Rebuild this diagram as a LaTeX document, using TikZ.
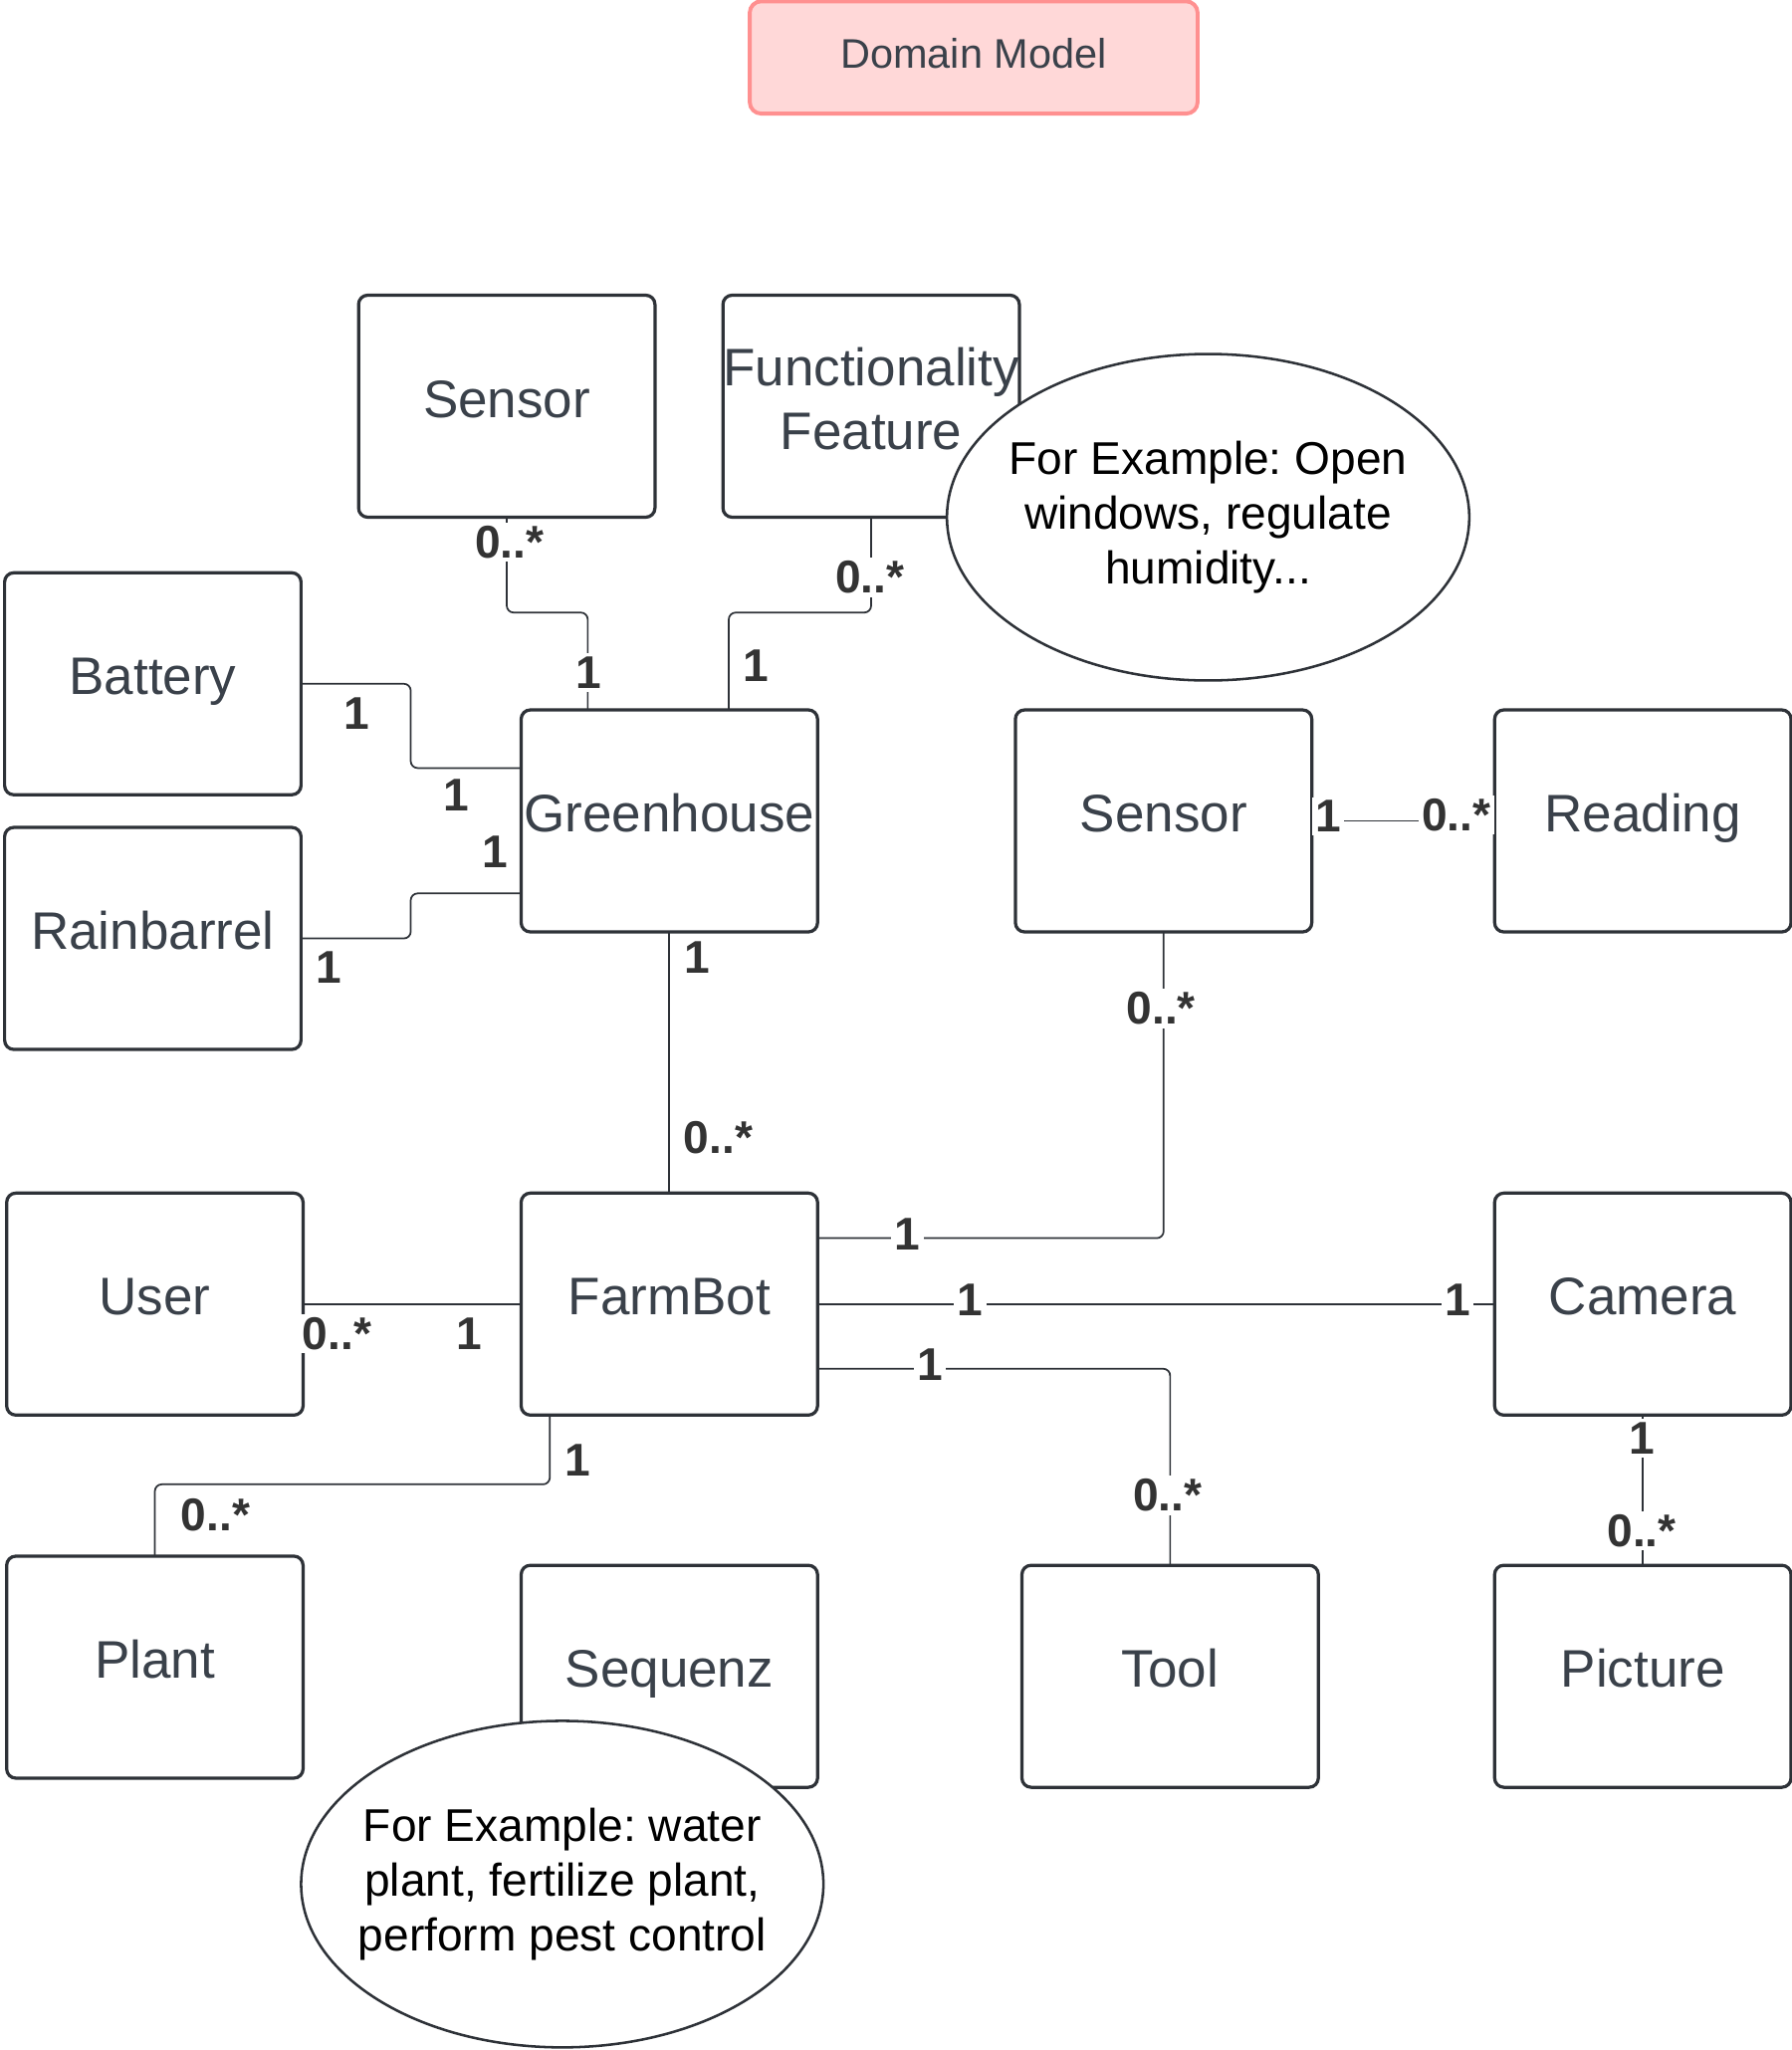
\documentclass[tikz,border=0pt]{standalone}
\usepackage{fontspec}
\setmainfont{Liberation Sans}
\usetikzlibrary{positioning, shapes.geometric}

\definecolor{boxline}{HTML}{2E3238}
\definecolor{boxtext}{HTML}{3A414A}
\definecolor{multtext}{HTML}{333333}
\definecolor{titlefill}{HTML}{FFD8D8}
\definecolor{titleline}{HTML}{FF9090}

\frenchspacing

\begin{document}
\begin{tikzpicture}[
    x=0.02cm, y=-0.02cm,
    box/.style={rectangle, draw=boxline, line width=1.4pt, rounded corners=4pt, fill=white, minimum width=4.54cm, minimum height=3.4cm, inner xsep=0pt, outer sep=0pt, text=boxtext, font=\fontsize{23pt}{27.6pt}\selectfont},
    entity/.style={box, text height=20pt, text depth=10.4pt},
    mult/.style={fill=white, inner sep=1.5pt, text=multtext, font=\fontsize{20pt}{24pt}\selectfont\bfseries},
    link/.style={draw=boxline, line width=0.75pt, rounded corners=3pt},
    note/.style={ellipse, draw=boxline, line width=1.1pt, fill=white, minimum width=8cm, minimum height=5cm},
    notetext/.style={align=center, font=\fontsize{20pt}{24pt}\selectfont},
    heading/.style={rectangle, draw=titleline, line width=1.7pt, fill=titlefill, rounded corners=5pt, minimum width=6.86cm, minimum height=1.72cm, text=boxtext, font=\fontsize{18pt}{21.6pt}\selectfont, text height=15pt, text depth=6pt}
]
\useasboundingbox (0,0) rectangle (1372,1569.5);

% Title
\node[heading] (title) at (745.5,44) {Domain Model};

% Greenhouse and its parts
\node[entity] (greenhouse) at (512.5,628.5) {Greenhouse};
\node[entity] (sensorA) at (388,311) {Sensor};
\node[box, align=center] (feature) at (667,311) {Functionality\\Feature\rule[-6.8pt]{0pt}{6.8pt}};
\node[entity] (battery) at (117,523.5) {Battery};
\node[entity, below=0.5cm of battery] (rainbarrel) {Rainbarrel};

% Sensor and readings
\node[entity, right=3.03cm of greenhouse] (sensorB) {Sensor};
\node[entity, right=2.8cm of sensorB] (reading) {Reading};

% FarmBot and its parts
\node[entity, below=4cm of greenhouse] (farmbot) {FarmBot};
\node[entity, left=3.34cm of farmbot] (user) {User};
\node[entity, below=4cm of reading] (camera) {Camera};
\node[entity, below=2.3cm of camera] (picture) {Picture};
\node[entity, left=2.7cm of picture] (tool) {Tool};
\node[entity, below=2.3cm of farmbot] (sequenz) {Sequenz};
\node[entity, below=2.16cm of user] (plant) {Plant};

% Connections
\draw[link] (sensorA.south) -- ++(0,73) -| ([xshift=-1.25cm]greenhouse.north);
\draw[link] (feature.south) -- ++(0,73) -| ([xshift=0.91cm]greenhouse.north);
\draw[link] (battery.east) -- ++(84,0) |- ([yshift=0.81cm]greenhouse.west);
\draw[link] (rainbarrel.east) -- ++(84,0) |- ([yshift=-1.11cm]greenhouse.west);
\draw[link] (greenhouse.south) -- (farmbot.north);
\draw[link] (sensorB.east) -- (reading.west);
\draw[link] (sensorB.south) |- ([yshift=1.01cm]farmbot.east);
\draw[link] (farmbot.east) -- (camera.west);
\draw[link] ([yshift=-0.99cm]farmbot.east) -| (tool.north);
\draw[link] (user.east) -- (farmbot.west);
\draw[link] ([xshift=-1.83cm]farmbot.south) -- ++(0,53) -| (plant.north);
\draw[link] (camera.south) -- (picture.north);

% Multiplicities
\node[mult] (m1) at (390,415) {0..*};
\node[mult] (m2) at (451,515) {1};
\node[mult] (m3) at (666,442) {0..*};
\node[mult] (m4) at (579,510) {1};
\node[mult] (m5) at (273,546) {1};
\node[mult] (m6) at (349,609) {1};
\node[mult] (m7) at (379,652) {1};
\node[mult] (m8) at (252,741) {1};
\node[mult] (m9) at (534,733) {1};
\node[mult] (m10) at (550,871) {0..*};
\node[mult] (m11) at (889,772) {0..*};
\node[mult] (m12) at (695,945) {1};
\node[mult] (m13) at (1017,625) {1};
\node[mult] (m14) at (1115,624) {0..*};
\node[mult] (m15) at (743,995) {1};
\node[mult] (m16) at (1116,995) {1};
\node[mult] (m17) at (712,1045) {1};
\node[mult] (m18) at (894,1145) {0..*};
\node[mult] (m19) at (258,1021) {0..*};
\node[mult] (m20) at (359,1021) {1};
\node[mult] (m21) at (442,1118) {1};
\node[mult] (m22) at (165,1160) {0..*};
\node[mult] (m23) at (1257,1101) {1};
\node[mult] (m24) at (1257,1172) {0..*};

% Notes
\node[note] (noteA) at (925,396) {};
\node[notetext] (noteAtext) at (noteA) {For Example: Open\\windows, regulate\\humidity...};
\node[note] (noteB) at (430.5,1442.5) {};
\node[notetext] (noteBtext) at (noteB) {For Example: water\\plant, fertilize plant,\\perform pest control};

\end{tikzpicture}
\end{document}
